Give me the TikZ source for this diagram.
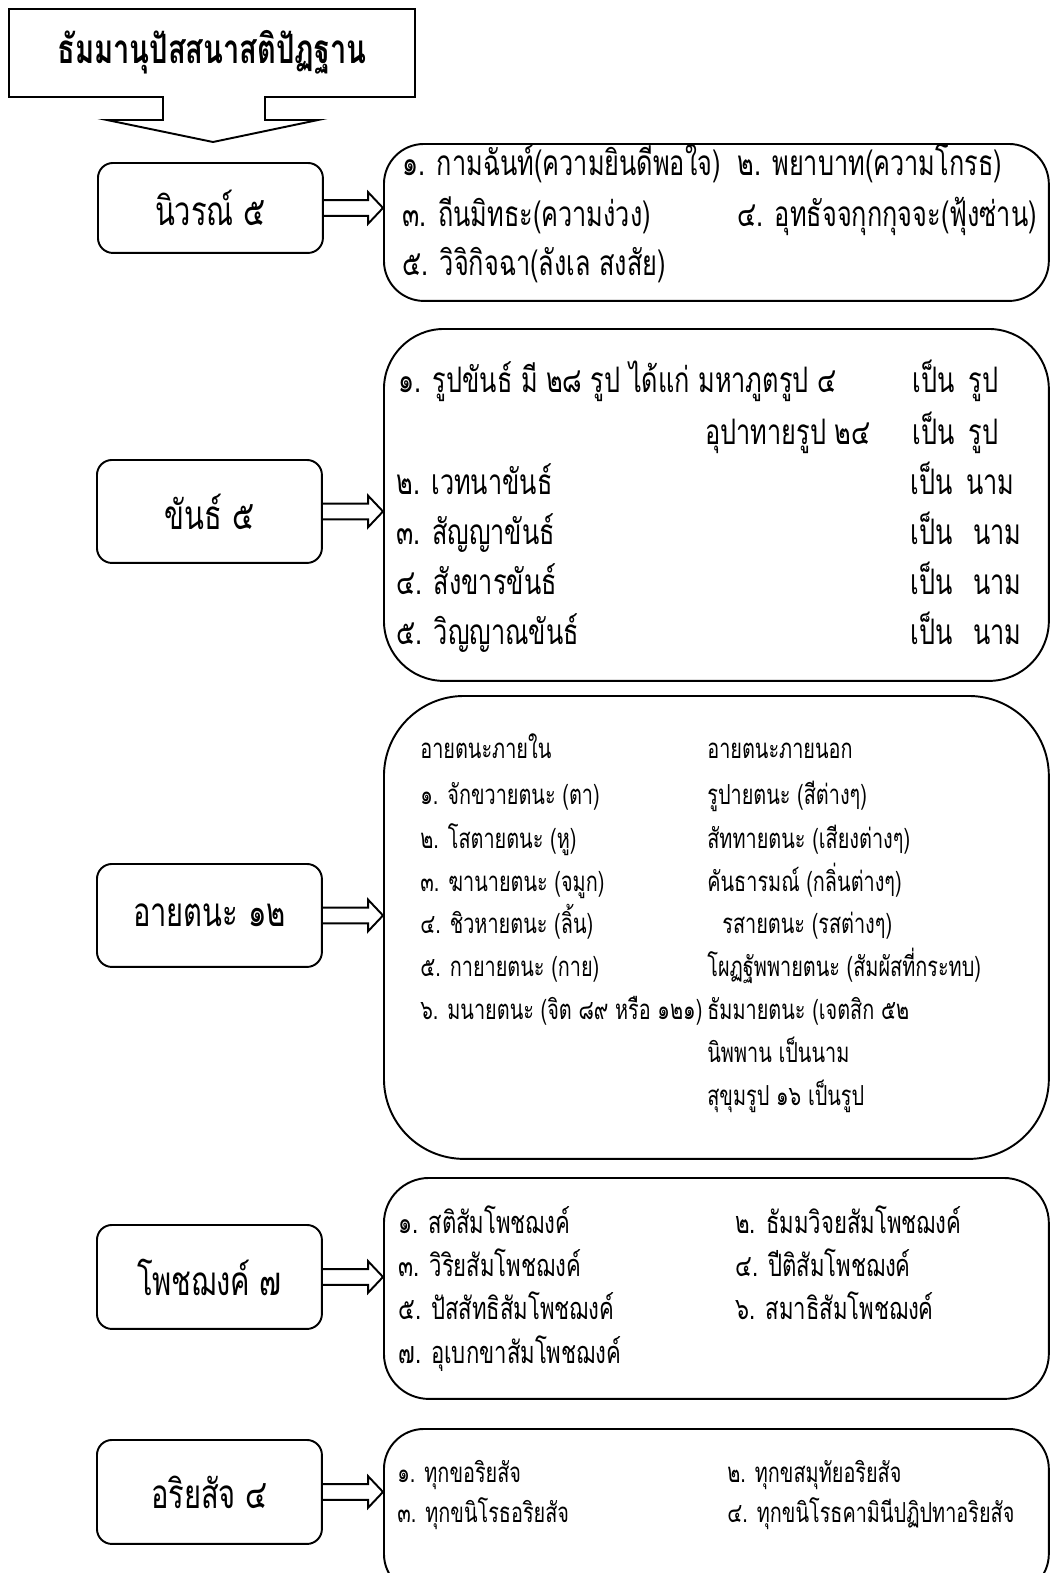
\documentclass[tikz,border=0pt]{standalone}
\usepackage{fontspec}
\setmainfont[Script=Thai,FakeStretch=0.72]{Loma}
\usetikzlibrary{calc}
\tikzset{
	x=0.02cm, y=-0.02cm, % one unit is one pixel of the page
	headbox/.style={draw, line width=1.1pt, rounded corners=0.3cm, minimum width=4.5cm, anchor=north west, font=\fontsize{23}{26}\selectfont}, % boxes on the left
	listbox/.style={draw, line width=1.1pt, anchor=north west, minimum width=13.3cm, inner sep=0pt}, % boxes on the right
	entry/.style={anchor=base west, inner sep=0pt, font=\fontsize{20}{24}\selectfont}, % one line of a list
	midentry/.style={entry, font=\fontsize{17.5}{20}\selectfont},
	smallentry/.style={entry, font=\fontsize{15.7}{19}\selectfont},
	fatarrow/.style={draw, line width=1.1pt, line join=miter},
}
% hollow arrow from a left box to its list
\newcommand{\blockarrow}[2]{%
	\draw[fatarrow] let \p1=(#1.east), \p2=(#1.east -| #2.west) in
		(\x1,\y1+4.5pt) -- (\x2-8.5pt,\y1+4.5pt) -- (\x2-8.5pt,\y1+9pt) -- (\p2)
		-- (\x2-8.5pt,\y1-9pt) -- (\x2-8.5pt,\y1-4.5pt) -- (\x1,\y1-4.5pt);}

\begin{document}
\begin{tikzpicture}
	\useasboundingbox (0,0) rectangle (1051,1573);
	
	% title with its downward arrow
	\draw[line width=1.1pt, line join=miter] (9,9) -- (415,9) -- (415,97) -- (265,97) -- (265,120) -- (318,120)
		-- (213,142) -- (107,120) -- (163,120) -- (163,97) -- (9,97) -- cycle;
	\node[font=\fontsize{23}{26}\selectfont\bfseries] (title) at (212,52) {ธัมมานุปัสสนาสติปัฏฐาน};
	
	% left boxes
	\node[headbox, minimum height=1.8cm] (niwon) at (97,162) {นิวรณ์ ๕};
	\node[headbox, minimum height=2.06cm] (khan) at (96,459) {ขันธ์ ๕};
	\node[headbox, minimum height=2.06cm] (ayatana) at (96,863) {อายตนะ ๑๒};
	\node[headbox, minimum height=2.08cm] (bojjhanga) at (96,1224) {โพชฌงค์ ๗};
	\node[headbox, minimum height=2.08cm] (ariyasacca) at (96,1439) {อริยสัจ ๔};
	
	% right boxes
	\node[listbox, minimum height=3.14cm, rounded corners=0.8cm] (niwonlist) at (383,143) {};
	\node[listbox, minimum height=7.04cm, rounded corners=1.2cm] (khanlist) at (383,328) {};
	\node[listbox, minimum height=9.26cm, rounded corners=1.6cm] (ayatanalist) at (383,695) {};
	\node[listbox, minimum height=4.42cm, rounded corners=0.9cm] (bojjhangalist) at (383,1177) {};
	\node[listbox, minimum height=3.3cm, rounded corners=0.8cm] (ariyasaccalist) at (383,1428) {};
	
	\blockarrow{niwon}{niwonlist}
	\blockarrow{khan}{khanlist}
	\blockarrow{ayatana}{ayatanalist}
	\blockarrow{bojjhanga}{bojjhangalist}
	\blockarrow{ariyasacca}{ariyasaccalist}
	
	% list texts
	\foreach \px/\py/\txt [count=\i] in {402/175/{๑. กามฉันท์(ความยินดีพอใจ)}, 737/175/{๒. พยาบาท(ความโกรธ)},
		402/226/{๓. ถีนมิทธะ(ความง่วง)}, 737/226/{๔. อุทธัจจกุกกุจจะ(ฟุ้งซ่าน)}, 402/275/{๕. วิจิกิจฉา(ลังเล สงสัย)}}
		\node[entry] (niwon\i) at (\px,\py) {\txt};
	
	\foreach \px/\py/\txt [count=\i] in {398/392/{๑. รูปขันธ์ มี ๒๘ รูป ได้แก่ มหาภูตรูป ๔}, 912/392/{เป็น\hspace{0.4em}รูป},
		705/444/{อุปาทายรูป ๒๔}, 912/444/{เป็น\hspace{0.4em}รูป},
		396/494/{๒. เวทนาขันธ์}, 910/494/{เป็น\hspace{0.4em}นาม},
		396/544/{๓. สัญญาขันธ์}, 910/544/{เป็น\hspace{0.6em}นาม},
		396/594/{๔. สังขารขันธ์}, 910/594/{เป็น\hspace{0.6em}นาม},
		396/644/{๕. วิญญาณขันธ์}, 910/644/{เป็น\hspace{0.6em}นาม}}
		\node[entry] (khan\i) at (\px,\py) {\txt};
	
	\foreach \px/\py/\txt [count=\i] in {420/758/{อายตนะภายใน}, 707/758/{อายตนะภายนอก},
		420/804/{๑. จักขวายตนะ (ตา)}, 707/804/{รูปายตนะ (สีต่างๆ)},
		420/848/{๒. โสตายตนะ (หู)}, 707/848/{สัททายตนะ (เสียงต่างๆ)},
		420/891/{๓. ฆานายตนะ (จมูก)}, 707/891/{คันธารมณ์ (กลิ่นต่างๆ)},
		420/933/{๔. ชิวหายตนะ (ลิ้น)}, 722/933/{รสายตนะ (รสต่างๆ)},
		420/976/{๕. กายายตนะ (กาย)}, 707/976/{โผฏฐัพพายตนะ (สัมผัสที่กระทบ)},
		420/1019/{๖. มนายตนะ (จิต ๘๙ หรือ ๑๒๑)}, 707/1019/{ธัมมายตนะ (เจตสิก ๕๒},
		707/1062/{นิพพาน เป็นนาม}, 707/1105/{สุขุมรูป ๑๖ เป็นรูป}}
		\node[smallentry] (ayatana\i) at (\px,\py) {\txt};
	
	\foreach \px/\py/\txt [count=\i] in {398/1233/{๑. สติสัมโพชฌงค์}, 735/1233/{๒. ธัมมวิจยสัมโพชฌงค์},
		398/1276/{๓. วิริยสัมโพชฌงค์}, 735/1276/{๔. ปีติสัมโพชฌงค์},
		398/1319/{๕. ปัสสัทธิสัมโพชฌงค์}, 735/1319/{๖. สมาธิสัมโพชฌงค์},
		398/1363/{๗. อุเบกขาสัมโพชฌงค์}}
		\node[midentry] (bojjhanga\i) at (\px,\py) {\txt};
	
	\foreach \px/\py/\txt [count=\i] in {397/1482/{๑. ทุกขอริยสัจ}, 727/1482/{๒. ทุกขสมุทัยอริยสัจ},
		397/1522/{๓. ทุกขนิโรธอริยสัจ}, 727/1522/{๔. ทุกขนิโรธคามินีปฏิปทาอริยสัจ}}
		\node[smallentry] (ariyasacca\i) at (\px,\py) {\txt};
	
\end{tikzpicture}
\end{document}
